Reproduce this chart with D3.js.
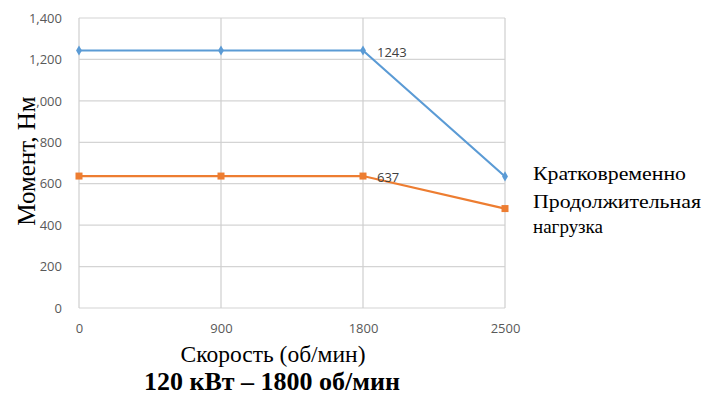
<!DOCTYPE html>
<html><head><meta charset="utf-8">
<script src="https://cdn.jsdelivr.net/npm/d3@7"></script>
<style>body{margin:0;background:#fff}svg{display:block}</style>
</head><body><svg id="c" width="703" height="401"></svg>
<script>
const categories = ["0", "900", "1800", "2500"];
const shortTerm = [1243, 1243, 1243, 635];
const continuous = [637, 637, 637, 480];
const yTicks = [0, 200, 400, 600, 800, 1000, 1200, 1400];
const seriesNames = ["Кратковременно", "Продолжительная", "нагрузка"];
const dataLabels = [{v: 1243, i: 2, text: "1243"}, {v: 637, i: 2, text: "637"}];

const svg = d3.select("#c");
const m = {l: 79, r: 505, t: 18, b: 308};
const x = d3.scalePoint().domain(categories).range([m.l, m.r]);
const y = d3.scaleLinear().domain([0, 1400]).range([m.b, m.t]);
const sans = "'Open Sans', 'Liberation Sans', sans-serif";
const serif = "'Liberation Serif', 'DejaVu Serif', serif";

// gridlines
svg.append("g").selectAll("line").data(yTicks).join("line")
  .attr("x1", m.l).attr("x2", m.r).attr("y1", d => y(d)).attr("y2", d => y(d))
  .attr("stroke", "#d4d4d4").attr("stroke-width", 1.2);
svg.append("g").selectAll("line").data(categories).join("line")
  .attr("x1", d => x(d)).attr("x2", d => x(d)).attr("y1", m.t).attr("y2", m.b)
  .attr("stroke", "#cfcfcf").attr("stroke-width", 1.2);

// axes labels
const fmt = d3.format(",");
const yAxis = d3.axisLeft(y).tickValues(yTicks).tickFormat(fmt).tickSize(0).tickPadding(17);
const ya = svg.append("g").attr("transform", `translate(${m.l},0)`).call(yAxis);
ya.select(".domain").remove();
ya.selectAll("text").attr("font-family", sans).attr("font-size", 13).attr("fill", "#595959");

const xAxis = d3.axisBottom(x).tickSize(0).tickPadding(16);
const xa = svg.append("g").attr("transform", `translate(0,${m.b})`).call(xAxis);
xa.select(".domain").remove();
xa.selectAll("text").attr("font-family", sans).attr("font-size", 13).attr("fill", "#595959");

// lines
const line = d3.line().x((d, i) => x(categories[i])).y(d => y(d));
svg.append("path").datum(continuous).attr("d", line).attr("fill", "none")
  .attr("stroke", "#ed7d31").attr("stroke-width", 2.2);
svg.append("path").datum(shortTerm).attr("d", line).attr("fill", "none")
  .attr("stroke", "#5b9bd5").attr("stroke-width", 2.2);

svg.append("g").selectAll("rect").data(continuous).join("rect")
  .attr("x", (d, i) => x(categories[i]) - 3.5).attr("y", d => y(d) - 3.5)
  .attr("width", 7).attr("height", 7).attr("fill", "#ed7d31");
svg.append("g").selectAll("path").data(shortTerm).join("path")
  .attr("d", d3.symbol(d3.symbolDiamond, 30))
  .attr("transform", (d, i) => `translate(${x(categories[i])},${y(d)})`)
  .attr("fill", "#5b9bd5");

// data labels
svg.append("g").selectAll("text").data(dataLabels).join("text")
  .attr("x", d => x(categories[d.i]) + 14).attr("y", d => y(d.v) + 6)
  .attr("font-family", sans).attr("font-size", 13).attr("fill", "#404040")
  .text(d => d.text);

// y title
svg.append("text").attr("transform", "translate(35,161) rotate(-90)")
  .attr("text-anchor", "middle").attr("font-family", serif).attr("font-size", 25)
  .attr("fill", "#000").attr("stroke", "#fff").attr("stroke-width", 2.5)
  .attr("paint-order", "stroke").text("Момент, Нм");

// x title
svg.append("text").attr("x", 273).attr("y", 362).attr("text-anchor", "middle")
  .attr("font-family", serif).attr("font-size", 23.5).attr("fill", "#000")
  .text("Скорость (об/мин)");
svg.append("text").attr("x", 272).attr("y", 390).attr("text-anchor", "middle")
  .attr("font-family", serif).attr("font-size", 26).attr("font-weight", "bold")
  .attr("fill", "#000").text("120 кВт – 1800 об/мин");

// legend
const legY = [180, 208, 233];
const legW = [153, 168, 70];
svg.append("g").selectAll("text").data(seriesNames).join("text")
  .attr("x", 533).attr("y", (d, i) => legY[i])
  .attr("textLength", (d, i) => legW[i]).attr("lengthAdjust", "spacingAndGlyphs")
  .attr("font-family", serif).attr("font-size", 19.5).attr("fill", "#000")
  .text(d => d);
</script></body></html>
